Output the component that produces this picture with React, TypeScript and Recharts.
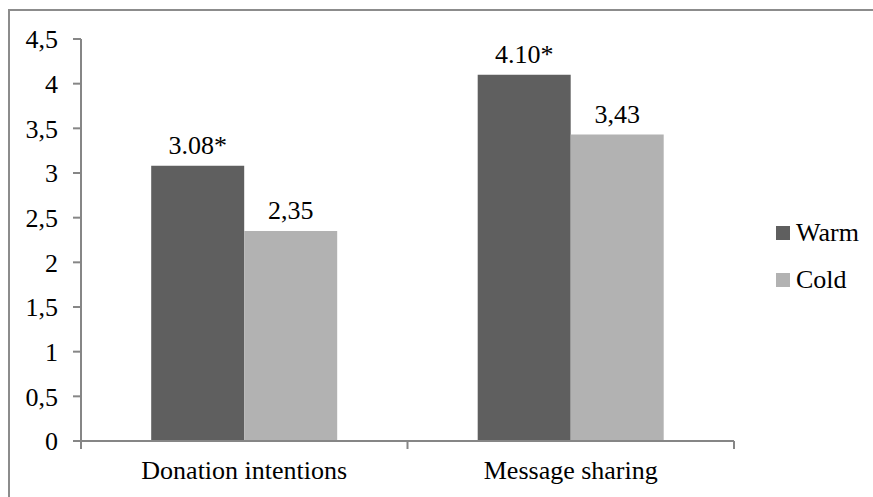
import React from "react";
import { BarChart, Bar, XAxis, YAxis, LabelList } from "recharts";

const categories = ["Donation intentions", "Message sharing"];
const warmValues = [3.08, 4.1];
const coldValues = [2.35, 3.43];
const warmLabels = ["3.08*", "4.10*"];
const coldLabels = ["2,35", "3,43"];
const yTicks = [0, 0.5, 1, 1.5, 2, 2.5, 3, 3.5, 4, 4.5];
const seriesNames = ["Warm", "Cold"];

const WARM = "#5f5f5f";
const COLD = "#b2b2b2";
const AXIS = "#868686";
const FONT = "Liberation Serif, Tinos, Times New Roman, Times, Noto Serif, DejaVu Serif, serif";

const data = categories.map((c, i) => ({
  name: c,
  warm: warmValues[i],
  cold: coldValues[i],
  warmLabel: warmLabels[i],
  coldLabel: coldLabels[i],
}));

const XTick = (props: any) => {
  const { x, y, payload, index, visibleTicksCount } = props;
  const half = payload && payload.offset ? payload.offset : 163.25;
  const axisY = y - 20;
  const last = index === (visibleTicksCount ?? categories.length) - 1;
  return (
    <g>
      <line x1={x - half} x2={x - half} y1={axisY} y2={axisY + 8} stroke={AXIS} strokeWidth={2} />
      {last && (
        <line x1={x + half} x2={x + half} y1={axisY} y2={axisY + 8} stroke={AXIS} strokeWidth={2} />
      )}
      <text x={x} y={y} dy="0.71em" textAnchor="middle" fill="#000" fontSize={26} style={{ fontFamily: FONT }}>
        {payload.value}
      </text>
    </g>
  );
};

export default function App() {
  return (
    <div style={{ position: "absolute", left: 0, top: 0, width: 873, height: 497, background: "#fff", fontFamily: FONT }}>
      <div
        style={{
          position: "absolute",
          left: 8,
          top: 9,
          width: 865,
          height: 488,
          borderTop: "2px solid #8c8c8c",
          borderLeft: "2px solid #8c8c8c",
          boxSizing: "border-box",
        }}
      />
      <div style={{ position: "absolute", left: 0, top: 0 }}>
        <BarChart
          width={873}
          height={497}
          data={data}
          margin={{ top: 39, right: 139, bottom: 0, left: 0 }}
          barCategoryGap="21.5%"
          barGap={0}
          style={{ fontFamily: FONT }}
        >
          <XAxis
            dataKey="name"
            height={56}
            axisLine={{ stroke: AXIS, strokeWidth: 2 }}
            tickLine={false}
            tickSize={0}
            tickMargin={20}
            tick={<XTick />}
            interval={0}
          />
          <YAxis
            width={81}
            domain={[0, 4.5]}
            ticks={yTicks}
            interval={0}
            axisLine={{ stroke: AXIS, strokeWidth: 2 }}
            tickLine={{ stroke: AXIS, strokeWidth: 2 }}
            tickSize={8}
            tickMargin={15}
            tickFormatter={(v: number) => String(v).replace(".", ",")}
            tick={{ fill: "#000", fontSize: 26, style: { fontFamily: FONT } }}
          />
          <Bar dataKey="warm" name={seriesNames[0]} fill={WARM} isAnimationActive={false}>
            <LabelList dataKey="warmLabel" position="top" offset={12} fill="#000" fontSize={26} style={{ fontFamily: FONT }} />
          </Bar>
          <Bar dataKey="cold" name={seriesNames[1]} fill={COLD} isAnimationActive={false}>
            <LabelList dataKey="coldLabel" position="top" offset={12} fill="#000" fontSize={26} style={{ fontFamily: FONT }} />
          </Bar>
        </BarChart>
      </div>
      {seriesNames.map((n, i) => (
        <div
          key={n}
          style={{
            position: "absolute",
            left: 776,
            top: 233 + i * 47 - 16,
            height: 32,
            display: "flex",
            alignItems: "center",
            fontFamily: FONT,
            fontSize: 26,
            color: "#000",
          }}
        >
          <span style={{ display: "inline-block", width: 14, height: 14, background: i === 0 ? WARM : COLD, marginRight: 6 }} />
          <span>{n}</span>
        </div>
      ))}
    </div>
  );
}
